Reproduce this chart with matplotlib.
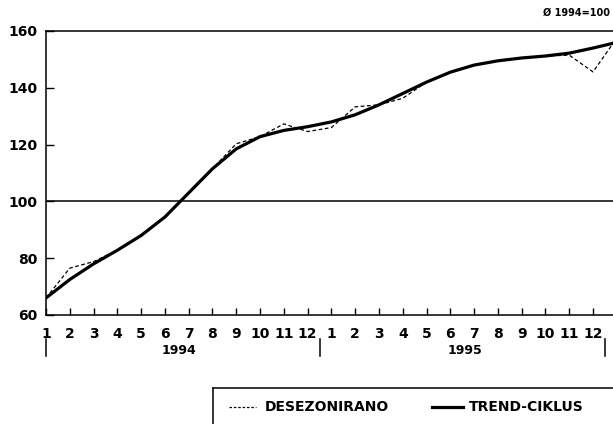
import matplotlib
matplotlib.use("Agg")
import matplotlib.pyplot as plt
import matplotlib.transforms as mtransforms
from matplotlib.lines import Line2D

# ---- data (month index 0 = Jan 1994) ----
month_labels = [str(m) for m in range(1, 13)] * 2
years = ["1994", "1995"]
trend_ciklus = [66, 72.5, 78, 82.8, 88, 94.5, 103, 111.5, 118.5, 122.8, 125, 126.3,
                128, 130.5, 134, 138, 142, 145.5, 148, 149.5, 150.5, 151.2, 152.2, 154, 156]
desezonirano = [66, 76.5, 78.8, 82.8, 88, 94.5, 103, 111.5, 120.3, 122.8, 127.3, 124.6,
                126, 133.3, 134, 136.3, 142, 145.5, 148, 149.5, 150.5, 151.2, 151.5, 145.6, 157.5]
y_ticks = [60, 80, 100, 120, 140, 160]
base_note = "Ø 1994=100"
legend_labels = ["DESEZONIRANO", "TREND-CIKLUS"]

plt.rcParams['font.family'] = ['DejaVu Sans']
plt.rcParams['font.weight'] = 'bold'

W, H = 613, 424
fig = plt.figure(figsize=(W / 100, H / 100), dpi=100)
ax_l, ax_r, ax_t, ax_b = 46, 613, 31, 315
ax = fig.add_axes([ax_l / W, (H - ax_b) / H, (ax_r - ax_l) / W, (ax_b - ax_t) / H])

x = list(range(len(trend_ciklus)))
ax.plot(x, desezonirano, color='black', lw=0.9, ls=(0, (3, 2)))
ax.plot(x, trend_ciklus, color='black', lw=2.3, solid_capstyle='round', solid_joinstyle='round')
ax.axhline(100, color='black', lw=1.1)

ax.set_xlim(0, 23.84)
ax.set_ylim(60, 160)
ax.set_yticks(y_ticks)
ax.set_yticklabels([str(v) for v in y_ticks], fontsize=10, fontweight='bold')
ax.set_xticks(range(24))
ax.set_xticklabels(month_labels, fontsize=10, fontweight='bold')
ax.tick_params(axis='x', direction='in', length=5, width=1, pad=9)
ax.tick_params(axis='y', direction='in', length=6, width=1, pad=6)

for s in ['left', 'bottom', 'top']:
    ax.spines[s].set_linewidth(1.1)
ax.spines['right'].set_visible(False)

# year brackets and labels
trans = mtransforms.blended_transform_factory(ax.transData, ax.transAxes)
def yfrac(py):
    return (ax_b - py) / (ax_b - ax_t)
for xs in [0, 11.5, 23.5]:
    ax.add_line(Line2D([xs, xs], [yfrac(339), yfrac(356)], color='black', lw=1.1,
                       transform=trans, clip_on=False))
for xc, yr in zip([5.6, 17.6], years):
    ax.text(xc, yfrac(351), yr, transform=trans, ha='center', va='center',
            fontsize=9, fontweight='bold')

# base note
fig.text(610 / W, 1 - 13 / H, base_note, ha='right', va='center', fontsize=7, fontweight='bold')

# legend box
def fx(px): return px / W
def fy(py): return 1 - py / H
fig.add_artist(Line2D([fx(213), fx(613)], [fy(388), fy(388)], color='black', lw=1.1))
fig.add_artist(Line2D([fx(213), fx(213)], [fy(388), fy(424)], color='black', lw=1.1))
ty = 407
fig.add_artist(Line2D([fx(229), fx(256)], [fy(ty), fy(ty)], color='black', lw=0.9, ls=(0, (2, 1.5))))
fig.text(fx(265), fy(ty), legend_labels[0], ha='left', va='center', fontsize=10, fontweight='bold')
fig.add_artist(Line2D([fx(432), fx(463)], [fy(ty), fy(ty)], color='black', lw=2.3))
fig.text(fx(469), fy(ty), legend_labels[1], ha='left', va='center', fontsize=10, fontweight='bold')

fig.savefig("out.png", dpi=100)
